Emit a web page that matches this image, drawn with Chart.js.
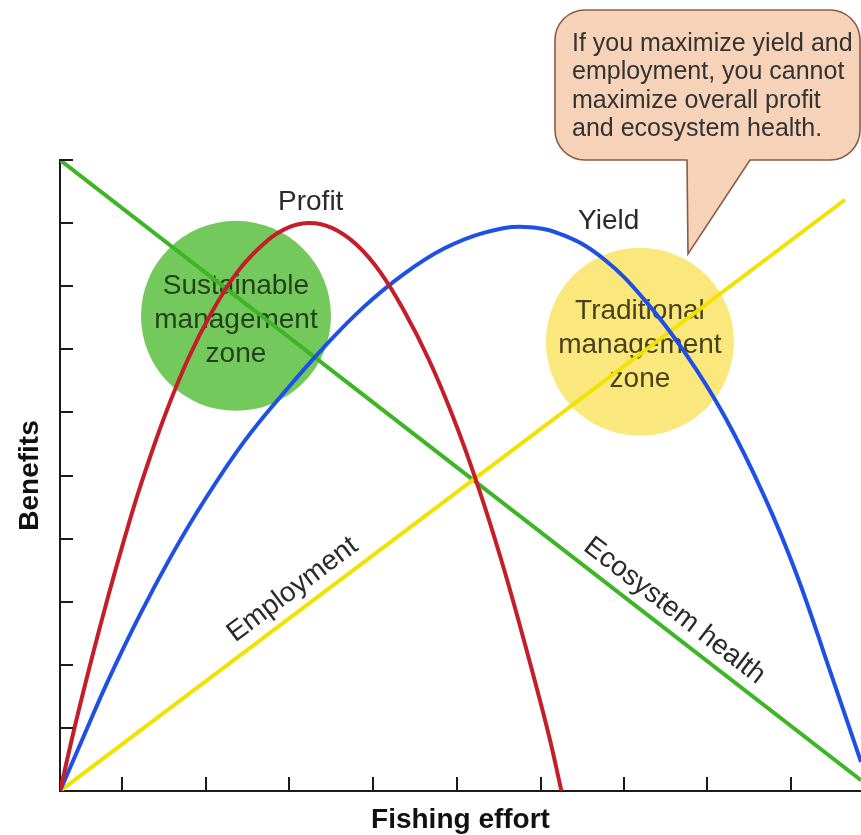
<!DOCTYPE html>
<html>
<head>
<meta charset="utf-8">
<script src="https://cdn.jsdelivr.net/npm/chart.js@4.4.1/dist/chart.umd.min.js"></script>
<style>
  html, body { margin: 0; padding: 0; background: #fff; }
  #wrap { width: 861px; height: 835px; position: relative; }
</style>
</head>
<body>
<div id="wrap"><canvas id="visserijChart"></canvas></div>
<script>
// Waarden (x = inspanning 0-100, y = baten 0-10)
const profitEffort = [0, 2, 4, 6, 8, 10, 13, 16, 19, 22, 25, 28, 31, 34, 37, 40, 43, 46, 49, 52, 55, 58, 61, 62.6];
const profitBenefit = [0, 1.1, 2.12, 3.08, 3.98, 4.82, 5.92, 6.85, 7.6, 8.2, 8.62, 8.9, 9.0, 8.92, 8.66, 8.22, 7.6, 6.85, 5.95, 4.9, 3.7, 2.35, 0.9, 0];

const yieldEffort = [0, 3, 6, 10, 14, 18, 23, 28, 33, 38, 43, 48, 53, 58, 63, 68, 73, 78, 83, 88, 92, 96, 100];
const yieldBenefit = [0, 0.88, 1.75, 2.8, 3.75, 4.6, 5.54, 6.32, 7.04, 7.68, 8.2, 8.6, 8.85, 8.94, 8.8, 8.42, 7.78, 6.95, 5.93, 4.65, 3.42, 1.95, 0.46];

const employmentEffort = [0, 98];
const employmentBenefit = [0, 9.37];

const ecosystemEffort = [0, 100];
const ecosystemBenefit = [10, 0.17];

const xTickValues = [7.74, 18.23, 28.59, 39.08, 49.56, 60.05, 70.41, 80.77, 91.26];
const yTickValues = [1, 2, 3, 4, 5, 6, 7, 8, 9, 10];

const calloutLines = [
  "If you maximize yield and",
  "employment, you cannot",
  "maximize overall profit",
  "and ecosystem health."
];

// Zones en labels (posities in data-eenheden)
const zones = [
  { x: 21.97, y: 7.53, r: 95, fill: "#74c95c", text: "rgba(20,40,15,0.85)", lines: ["Sustainable", "management", "zone"] },
  { x: 72.4, y: 7.12, r: 94, fill: "#fbe87c", text: "rgba(40,35,10,0.85)", lines: ["Traditional", "management", "zone"] }
];

const FONT = '"Liberation Sans", Arial, Helvetica, sans-serif';

function punten(xs, ys) {
  return xs.map((v, i) => ({ x: v, y: ys[i] }));
}

function lijnLabel(ctx, xS, yS, xs, ys, tekst, at, lift) {
  const p0 = { x: xS.getPixelForValue(xs[0]), y: yS.getPixelForValue(ys[0]) };
  const p1 = { x: xS.getPixelForValue(xs[1]), y: yS.getPixelForValue(ys[1]) };
  const t = (at - xs[0]) / (xs[1] - xs[0]);
  const px = p0.x + (p1.x - p0.x) * t;
  const py = p0.y + (p1.y - p0.y) * t;
  ctx.save();
  ctx.translate(px, py);
  ctx.rotate(Math.atan2(p1.y - p0.y, p1.x - p0.x));
  ctx.textAlign = "center";
  ctx.textBaseline = "alphabetic";
  ctx.fillText(tekst, 0, -lift);
  ctx.restore();
}

const annotaties = {
  id: "annotaties",
  beforeDatasetsDraw(chart) {
    const { ctx, scales: { x, y } } = chart;
    ctx.save();
    zones.forEach((z) => {
      const cx = x.getPixelForValue(z.x);
      const cy = y.getPixelForValue(z.y);
      ctx.beginPath();
      ctx.arc(cx, cy, z.r, 0, Math.PI * 2);
      ctx.fillStyle = z.fill;
      ctx.fill();
      ctx.fillStyle = z.text;
      ctx.font = "28px " + FONT;
      ctx.textAlign = "center";
      ctx.textBaseline = "middle";
      z.lines.forEach((t, i) => ctx.fillText(t, cx, cy + 4 + (i - 1) * 34));
    });
    ctx.restore();
  },
  afterDatasetsDraw(chart) {
    const { ctx, chartArea, scales: { x, y } } = chart;
    ctx.save();

    // tickjes naar binnen
    ctx.strokeStyle = "#1a1a1a";
    ctx.lineWidth = 2;
    x.ticks.forEach((t) => {
      const px = Math.round(x.getPixelForValue(t.value));
      ctx.beginPath();
      ctx.moveTo(px, chartArea.bottom);
      ctx.lineTo(px, chartArea.bottom - 14);
      ctx.stroke();
    });
    y.ticks.forEach((t) => {
      if (t.value === 0) return;
      const py = Math.round(y.getPixelForValue(t.value));
      ctx.beginPath();
      ctx.moveTo(chartArea.left, py);
      ctx.lineTo(chartArea.left + 13, py);
      ctx.stroke();
    });

    // curve labels
    ctx.fillStyle = "#2a2a2a";
    ctx.font = "28px " + FONT;
    ctx.textAlign = "center";
    ctx.textBaseline = "middle";
    ctx.fillText("Profit", x.getPixelForValue(31.3), y.getPixelForValue(9.33));
    ctx.fillText("Yield", x.getPixelForValue(68.5), y.getPixelForValue(9.03));

    lijnLabel(ctx, x, y, employmentEffort, employmentBenefit, "Employment", 30.6, 13);
    lijnLabel(ctx, x, y, ecosystemEffort, ecosystemBenefit, "Ecosystem health", 75.2, 12);

    // tekstballon
    const x0 = 555, x1 = 860, y0 = 10, y1 = 160, r = 30;
    const tailL = 687, tailR = 750, tipX = 688, tipY = 254;
    ctx.beginPath();
    ctx.moveTo(x0 + r, y0);
    ctx.lineTo(x1 - r, y0);
    ctx.arcTo(x1, y0, x1, y0 + r, r);
    ctx.lineTo(x1, y1 - r);
    ctx.arcTo(x1, y1, x1 - r, y1, r);
    ctx.lineTo(tailR, y1);
    ctx.lineTo(tipX, tipY);
    ctx.lineTo(tailL, y1);
    ctx.lineTo(x0 + r, y1);
    ctx.arcTo(x0, y1, x0, y1 - r, r);
    ctx.lineTo(x0, y0 + r);
    ctx.arcTo(x0, y0, x0 + r, y0, r);
    ctx.closePath();
    ctx.fillStyle = "#f5d2b8";
    ctx.fill();
    ctx.strokeStyle = "#8c5a46";
    ctx.lineWidth = 1.6;
    ctx.stroke();

    ctx.fillStyle = "#333";
    ctx.font = "25px " + FONT;
    ctx.textAlign = "left";
    ctx.textBaseline = "middle";
    calloutLines.forEach((t, i) => ctx.fillText(t, 572, 44 + i * 28.5));

    ctx.restore();
  }
};

const lijnStijl = (kleur) => ({
  borderColor: kleur,
  backgroundColor: kleur,
  borderWidth: 4,
  pointRadius: 0,
  showLine: true,
  fill: false,
  tension: 0.4
});

new Chart(document.getElementById("visserijChart"), {
  type: "scatter",
  data: {
    datasets: [
      { label: "Profit", data: punten(profitEffort, profitBenefit), ...lijnStijl("#c41e2a") },
      { label: "Yield", data: punten(yieldEffort, yieldBenefit), ...lijnStijl("#1f50e6") },
      { label: "Employment", data: punten(employmentEffort, employmentBenefit), ...lijnStijl("#f2e200") },
      { label: "Ecosystem health", data: punten(ecosystemEffort, ecosystemBenefit), ...lijnStijl("#3db524") }
    ]
  },
  options: {
    responsive: true,
    maintainAspectRatio: false,
    animation: false,
    layout: { padding: { top: 160, right: 0, left: 0, bottom: 0 } },
    plugins: { legend: { display: false }, tooltip: { enabled: false } },
    scales: {
      x: {
        type: "linear",
        min: 0,
        max: 100,
        afterBuildTicks: (s) => { s.ticks = xTickValues.map((v) => ({ value: v })); },
        afterFit: (s) => { s.height = 44; },
        ticks: { display: false },
        grid: { display: true, drawOnChartArea: false, drawTicks: false },
        border: { display: true, color: "#1a1a1a", width: 2 },
        title: {
          display: true,
          text: "Fishing effort",
          color: "#111",
          font: { family: FONT, size: 28, weight: "bold" },
          padding: { top: 0, bottom: -2 }
        }
      },
      y: {
        type: "linear",
        min: 0,
        max: 10,
        afterBuildTicks: (s) => { s.ticks = yTickValues.map((v) => ({ value: v })); },
        afterFit: (s) => { s.width = 60; },
        ticks: { display: false },
        grid: { display: true, drawOnChartArea: false, drawTicks: false },
        border: { display: true, color: "#1a1a1a", width: 2 },
        title: {
          display: true,
          text: "Benefits",
          color: "#111",
          font: { family: FONT, size: 28, weight: "bold" },
          padding: { top: 13, bottom: 0 }
        }
      }
    }
  },
  plugins: [annotaties]
});
</script>
</body>
</html>
